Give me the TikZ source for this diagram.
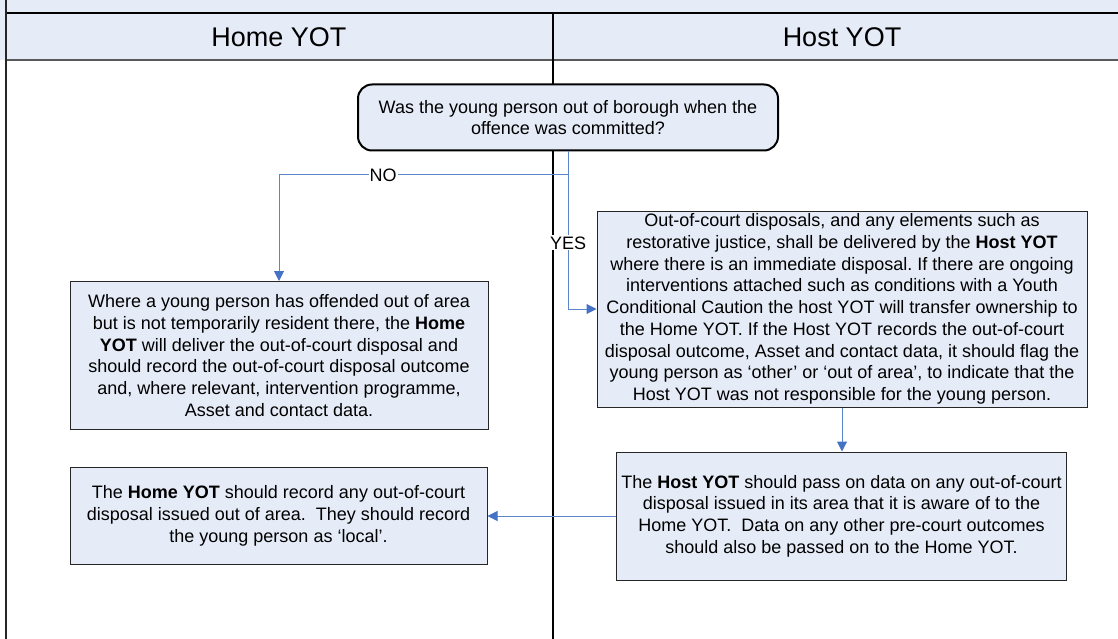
\documentclass[tikz,border=0pt]{standalone}
\usepackage{fontspec}
\setmainfont{Liberation Sans}
\usetikzlibrary{arrows.meta,calc}
\definecolor{boxfill}{HTML}{E6ECF7}
\definecolor{connblue}{HTML}{5B86C9}
\definecolor{tipblue}{HTML}{4472C4}
\frenchspacing
\tikzset{
  box/.style={draw=black!85, line width=1pt, fill=boxfill, inner sep=0pt, align=center,
    font=\fontsize{18}{21.7}\selectfont},
  decision/.style={box, draw=black, line width=2pt, rounded corners=14pt},
  conn/.style={draw=connblue, line width=1pt, -{Triangle[width=10pt,length=10pt,fill=tipblue,color=tipblue]}},
  lbl/.style={fill=white, inner sep=1pt, font=\fontsize{18}{21.7}\selectfont, text=black},
  lanehead/.style={font=\fontsize{27}{30}\selectfont},
  laneline/.style={line width=1.5pt}
}
\begin{document}
\begin{tikzpicture}[x=1pt,y=-1pt]
\useasboundingbox (0,0) rectangle (1118,639);
% header bands
\fill[boxfill] (0,0) rectangle (1118,60);
\draw[black, line width=1.5pt] (6,13) -- (1118,13);
\draw[black!65, line width=2pt] (6,60) -- (1118,60);
\draw[black!85, line width=2.5pt] (6,0) -- (6,639);
\draw[black, laneline] (553,13) -- (553,639);
\node[lanehead] (hhome) at (279,37) {Home YOT};
\node[lanehead] (hhost) at (842,37) {Host YOT};
% boxes
\node[decision, minimum width=420pt, minimum height=66pt] (dec) at (568,117.5)
  {Was the young person out of borough when the\\offence was committed?};
\node[box, minimum width=490pt, minimum height=196pt] (r1) at (842,309)
  {Out-of-court disposals, and any elements such as\\
   restorative justice, shall be delivered by the \textbf{Host YOT}\\
   where there is an immediate disposal. If there are ongoing\\
   interventions attached such as conditions with a Youth\\
   Conditional Caution the host YOT will transfer ownership to\\
   the Home YOT. If the Host YOT records the out-of-court\\
   disposal outcome, Asset and contact data, it should flag the\\
   young person as ‘other’ or ‘out of area’, to indicate that the\\
   Host YOT was not responsible for the young person.};
\node[box, minimum width=418pt, minimum height=148pt] (l1) at (279,355.5)
  {Where a young person has offended out of area\\
   but is not temporarily resident there, the \textbf{Home}\\
   \textbf{YOT} will deliver the out-of-court disposal and\\
   should record the out-of-court disposal outcome\\
   and, where relevant, intervention programme,\\
   Asset and contact data.};
\node[box, minimum width=417pt, minimum height=97pt] (l2) at (278.5,516)
  {The \textbf{Home YOT} should record any out-of-court\\
   disposal issued out of area.~ They should record\\
   the young person as ‘local’.};
\node[box, minimum width=450pt, minimum height=128pt] (r2) at (841.5,516)
  {The \textbf{Host YOT} should pass on data on any out-of-court\\
   disposal issued in its area that it is aware of to the\\
   Home YOT.~ Data on any other pre-court outcomes\\
   should also be passed on to the Home YOT.};
% connectors
\draw[conn] (dec.south) -- ++(0,23.5) -| (l1.north) node[lbl, pos=0.32] {NO};
\draw[conn] (dec.south) |- (r1.west) node[lbl, pos=0.29] {YES};
\draw[conn] (r1.south) -- (r1.south |- r2.north);
\draw[conn] (r2.west) -- (l2.east);
\end{tikzpicture}
\end{document}
